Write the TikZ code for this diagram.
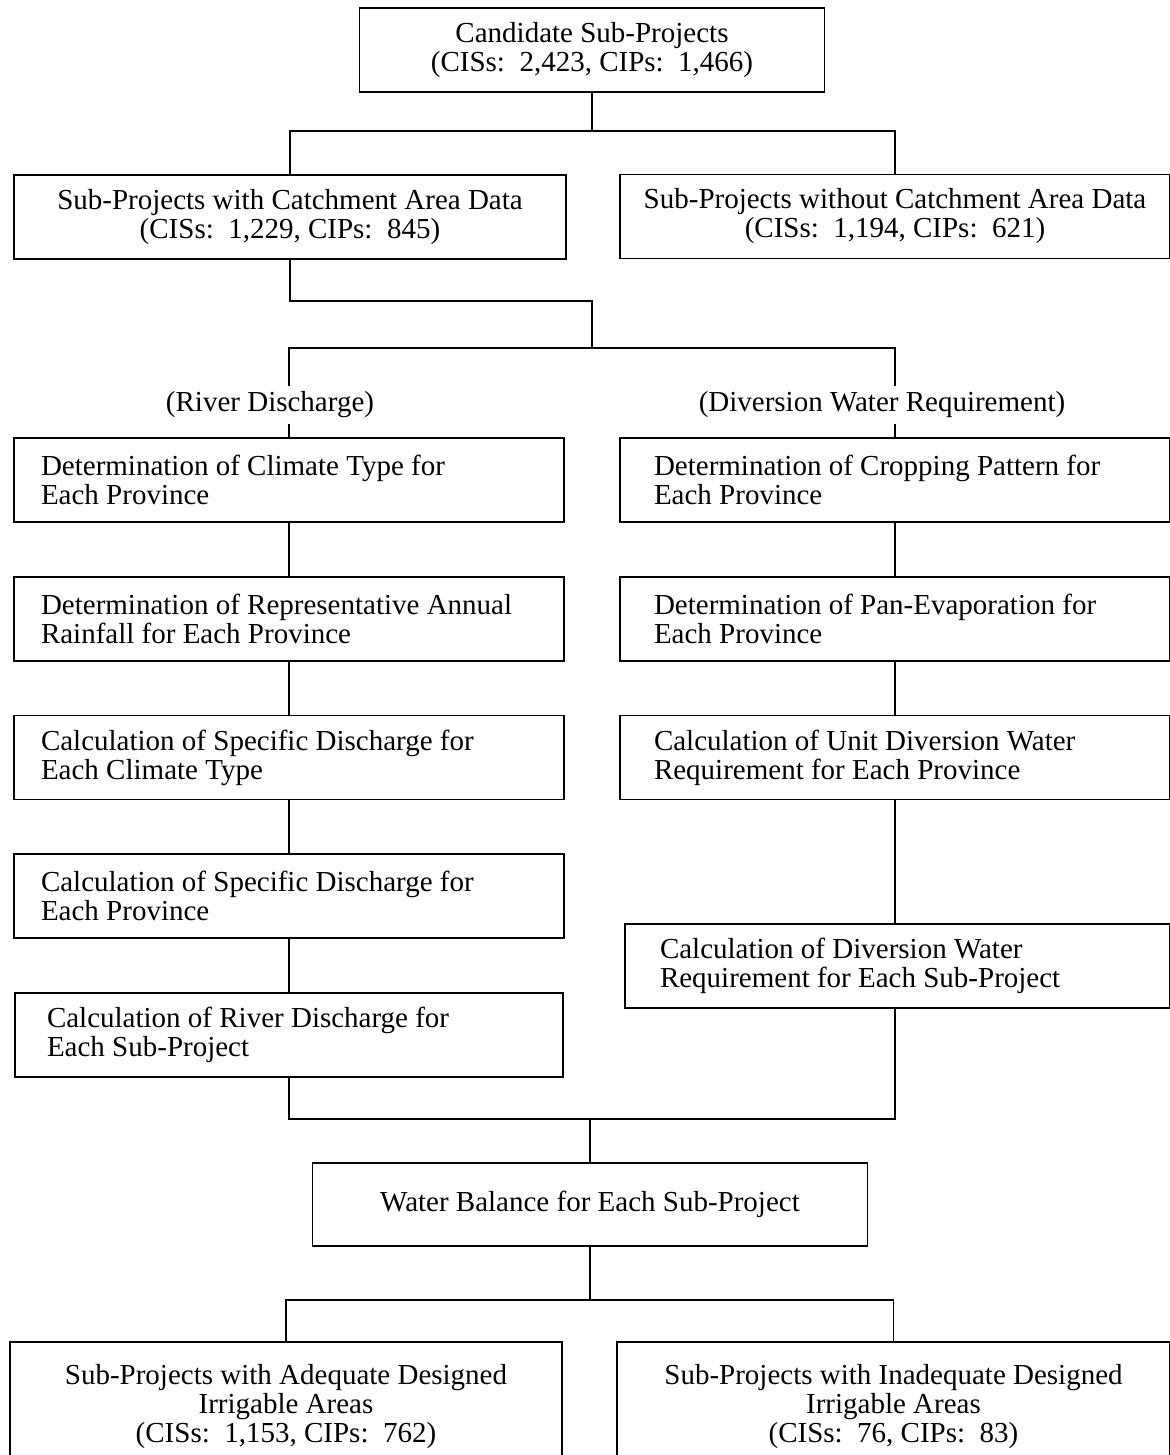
\documentclass[tikz,border=0pt]{standalone}
\usepackage{fontspec}
\setmainfont{Liberation Serif}
\begin{document}
\begin{tikzpicture}[x=0.5pt,y=-0.5pt,
  line width=0.9pt,
  txt/.style={font=\fontsize{14.5}{14.5}\selectfont},
  box/.style={txt, draw, line width=0.9pt, inner ysep=2pt},
  cbox/.style={box, align=center, minimum height=42pt},
  lcol/.style={box, inner xsep=13.5pt, text width=248pt, minimum height=42pt, align=flush left},
  rcol/.style={box, inner xsep=17pt, text width=241pt, minimum height=42pt, align=flush left},
  lab/.style={txt, fill=white, inner xsep=1pt, inner ysep=3pt}]
\clip (0,0) rectangle (1170,1455);
\fill[white] (0,0) rectangle (1170,1455);

% nodes
\node[cbox, minimum width=232.5pt] (top) at (592,50) {Candidate Sub-Projects\\(CISs:\ \ 2,423, CIPs:\ \ 1,466)};
\node[cbox, minimum width=276pt] (b2L) at (290,217) {Sub-Projects with Catchment Area Data\\(CISs:\ \ 1,229, CIPs:\ \ 845)};
\node[cbox, minimum width=275pt] (b2R) at (895,216.5) {Sub-Projects without Catchment Area Data\\(CISs:\ \ 1,194, CIPs:\ \ 621)};

\node[lcol] (L1) at (289,480) {Determination of Climate Type for\\Each Province};
\node[lcol] (L2) at (289,619) {Determination of Representative Annual\\Rainfall for Each Province};
\node[lcol] (L3) at (289,757.5) {Calculation of Specific Discharge for\\Each Climate Type};
\node[lcol] (L4) at (289,896) {Calculation of Specific Discharge for\\Each Province};
\node[lcol, inner xsep=16pt, text width=242pt] (L5) at (289,1035) {Calculation of River Discharge for\\Each Sub-Project};

\node[rcol] (R1) at (895,480) {Determination of Cropping Pattern for\\Each Province};
\node[rcol] (R2) at (895,619) {Determination of Pan-Evaporation for\\Each Province};
\node[rcol] (R3) at (895,757.5) {Calculation of Unit Diversion Water\\Requirement for Each Province};
\node[rcol, inner xsep=17.5pt, text width=237.5pt] (R4) at (897.5,966) {Calculation of Diversion Water\\Requirement for Each Sub-Project};

\node[cbox, minimum width=277.5pt, minimum height=41.5pt] (WB) at (590,1204.5) {Water Balance for Each Sub-Project};

\node[cbox, minimum width=276pt, minimum height=65pt] (BL) at (286,1407) {Sub-Projects with Adequate Designed\\Irrigable Areas\\(CISs:\ \ 1,153, CIPs:\ \ 762)};
\node[cbox, minimum width=276.5pt, minimum height=65pt] (BR) at (893.5,1407) {Sub-Projects with Inadequate Designed\\Irrigable Areas\\(CISs:\ \ 76, CIPs:\ \ 83)};

% junctions
\coordinate (j1) at (592,131);
\coordinate (j2) at (592,301);
\coordinate (j3) at (592,348);
\coordinate (j4) at (590,1119);
\coordinate (j5) at (590,1300);

% connectors
\draw (top.south) -- (j1);
\draw (b2L.north) |- (j1) -| (b2R.north);
\draw (b2L.south) |- (j2) -- (j3);
\draw (L1.north) |- (j3) -| (R1.north);
\draw (L1.south) -- (L2.north);
\draw (L2.south) -- (L3.north);
\draw (L3.south) -- (L4.north);
\draw (L4.south) -- (L5.north);
\draw (R1.south) -- (R2.north);
\draw (R2.south) -- (R3.north);
\draw (R3.south) -- (R3.south |- R4.north);
\draw (L5.south) |- (j4);
\draw (R3.south |- R4.south) |- (j4);
\draw (j4) -- (WB.north);
\draw (WB.south) -- (j5);
\draw (BL.north) |- (j5) -| (BR.north);

% labels
\node[lab] (rd) at (270,405) {(River Discharge)};
\node[lab] (dwr) at (882,405) {(Diversion Water Requirement)};
\end{tikzpicture}
\end{document}
